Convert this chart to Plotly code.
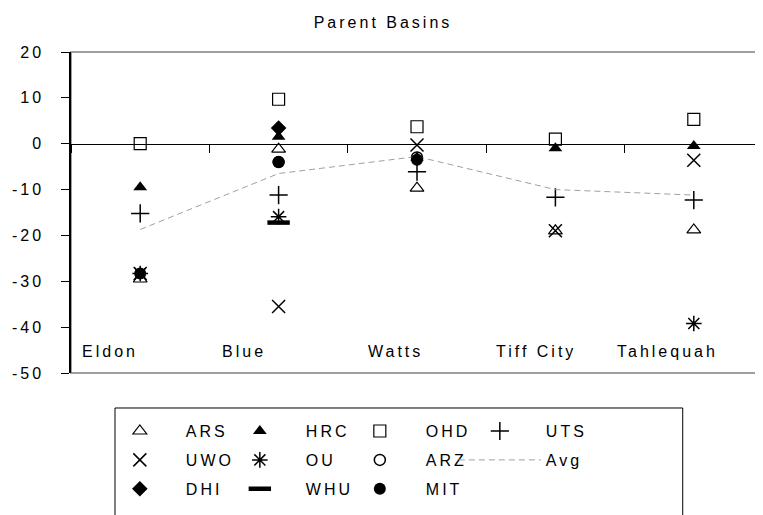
import plotly.graph_objects as go

basins = ["Eldon", "Blue", "Watts", "Tiff City", "Tahlequah"]
y_ticks = [20, 10, 0, -10, -20, -30, -40, -50]

ars = [-29.5, -1.2, -9.7, -19.0, -18.8]
hrc = [-9.5, 1.5, -3.0, -1.0, -0.5]
ohd = [0.0, 9.7, 3.7, 1.0, 5.3]
uts = [-15.2, -11.2, -6.1, -11.7, -12.3]
uwo = [-28.3, -35.5, -0.3, -19.0, -3.6]
ou = [-28.3, -15.9, None, None, -39.2]
arz = [None, -4.0, -3.0, None, None]
avg = [-18.7, -6.5, -2.8, -10.0, -11.2]
dhi = [None, 3.4, None, None, None]
whu = [None, -17.2, None, None, None]
mit = [-28.3, -4.0, -3.5, None, None]

FONT = "Liberation Sans, Arial, sans-serif"
SP = "letter-spacing:3px"


def spaced(t, sp=SP):
    return f'<span style="{sp}">{t}</span>'


fig = go.Figure()


def add_marker(name, ys, symbol, size, legend, lw=1.2, lwidth=None):
    fig.add_trace(go.Scatter(
        x=basins, y=ys, mode="markers", name=spaced(name), legend=legend,
        legendwidth=lwidth,
        marker=dict(symbol=symbol, size=size, color="black",
                    line=dict(color="black", width=lw)),
    ))


add_marker("ARS", ars, "triangle-up-open", 12, "legend")
add_marker("HRC", hrc, "triangle-up", 12, "legend", 0)
add_marker("OHD", ohd, "square-open", 12, "legend")
add_marker("UTS", uts, "cross-thin-open", 13, "legend", 1.5, 70)
add_marker("UWO", uwo, "x-thin-open", 13, "legend2", 1.5)
add_marker("OU", ou, "asterisk-open", 13, "legend2", 1.5)
add_marker("ARZ", arz, "circle-open", 11, "legend2", 1.5)
fig.add_trace(go.Scatter(
    x=basins, y=avg, mode="lines", name=spaced("Avg"), legend="legend2",
    legendwidth=70,
    line=dict(color="#a0a0a0", width=1, dash="6px,4px"),
))
add_marker("DHI", dhi, "diamond", 12, "legend3", 0)
add_marker("WHU", whu, "line-ew-open", 16, "legend3", 4.5)
add_marker("MIT", mit, "circle", 12, "legend3", 0, 70)

# category labels drawn inside plot near the bottom
label_shift = [-30, -35, -22, -19, -26]
for b, s in zip(basins, label_shift):
    fig.add_annotation(x=b, y=-45.4, text=spaced(b), showarrow=False, xshift=s,
                       font=dict(family=FONT, size=16, color="black"))

# plot area border (top/bottom gray)
fig.add_shape(type="rect", xref="paper", yref="paper", x0=0, x1=1.02, y0=0, y1=1,
              line=dict(color="#808080", width=1.5), layer="below")
# legend box
fig.add_shape(type="rect", xref="paper", yref="paper", x0=0.0636, x1=0.884,
              y0=-0.47, y1=-0.109, line=dict(color="black", width=1))

leg_common = dict(orientation="h", xanchor="left", yanchor="middle",
                  entrywidth=23, entrywidthmode="pixels", itemwidth=82,
                  bgcolor="rgba(0,0,0,0)",
                  font=dict(family=FONT, size=16, color="black"), traceorder="normal")
fig.update_layout(
    width=755, height=507,
    margin=dict(l=63, r=0, t=44, b=142, autoexpand=False),
    paper_bgcolor="white", plot_bgcolor="white",
    title=dict(text=spaced("Parent Basins"), x=(383 - 8) / 755, xanchor="center",
               y=1 - 14 / 507, yanchor="middle",
               font=dict(family=FONT, size=16, color="black")),
    xaxis=dict(type="category", anchor="free", position=50 / 70,
               showline=True, linecolor="black", linewidth=1,
               ticks="outside", tickson="boundaries", ticklen=8, tickcolor="black",
               showticklabels=False, showgrid=False, zeroline=False,
               range=[-0.5, 4.5]),
    yaxis=dict(range=[-50, 20], tickvals=y_ticks,
               ticktext=[spaced(str(v)) for v in y_ticks],
               showline=True, linecolor="black",
               linewidth=1.5, ticks="outside", ticklen=8, tickcolor="black",
               showgrid=False, zeroline=False, ticklabelstandoff=14,
               tickfont=dict(family=FONT, size=16, color="black")),
    legend=dict(x=0.033, y=-0.181, **leg_common),
    legend2=dict(x=0.033, y=-0.271, **leg_common),
    legend3=dict(x=0.033, y=-0.361, **leg_common),
)

fig.write_html("out.html")
